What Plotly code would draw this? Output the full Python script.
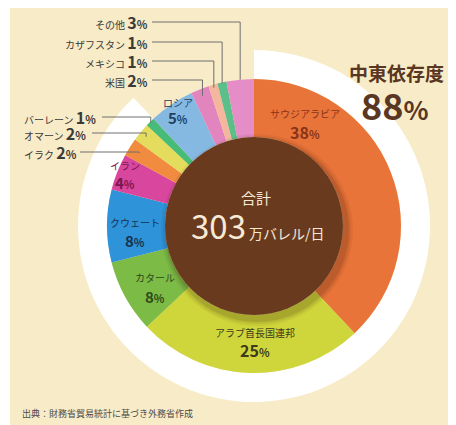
import math
import plotly.graph_objects as go

# ---------------- data ----------------
countries = ["サウジアラビア", "アラブ首長国連邦", "カタール", "クウェート", "イラン",
             "イラク", "オマーン", "バーレーン", "ロシア", "米国", "メキシコ",
             "カザフスタン", "その他"]
shares = [38, 25, 8, 8, 4, 2, 2, 1, 5, 2, 1, 1, 3]
colors = ["#E9743A", "#CFD63C", "#7DBB47", "#2E93D8", "#D9469E", "#F08B3F",
          "#E4DC5C", "#47BC79", "#86B9E2", "#E285BF", "#F5B69E", "#5CBF8A", "#E48DC7"]
middle_east_share = 88
middle_east_label = "中東依存度"
total_label = "合計"
total_value = 303
total_unit = "万バレル/日"
source_text = "出典：財務省貿易統計に基づき外務省作成"

# ---------------- layout constants ----------------
W, H = 456, 425
OFF = 8  # page body margin
CX, CY = 254, 226
R, R_IN, R_RING = 147, 89, 176
BG = "#F8EBC7"
BROWN = "#6A3A1E"
FONT = "Noto Sans CJK JP"


def px(x):
    return (x - OFF) / W


def py(y):
    return 1 - (y - OFF) / H


def dom(r):
    return dict(x=[px(CX - r), px(CX + r)], y=[py(CY + r), py(CY - r)])


fig = go.Figure()

# white "middle east" ring behind
fig.add_trace(go.Pie(
    values=[middle_east_share, 100 - middle_east_share],
    marker=dict(colors=["#FFFFFF", "rgba(0,0,0,0)"], line=dict(width=0)),
    sort=False, direction="clockwise", rotation=0, hole=R / R_RING,
    textinfo="none", hoverinfo="skip", showlegend=False, domain=dom(R_RING)))

# main donut
fig.add_trace(go.Pie(
    labels=countries, values=shares,
    marker=dict(colors=colors, line=dict(width=0)),
    sort=False, direction="clockwise", rotation=0, hole=R_IN / R,
    textinfo="none", showlegend=False, domain=dom(R)))

shapes = []
# cream background panel
shapes.append(dict(type="rect", xref="paper", yref="paper", layer="below",
                   x0=px(10), x1=1, y0=0, y1=1, fillcolor=BG, line_width=0))

# soft shadow of centre circle
for dr, op in [(7, 0.06), (5, 0.08), (3, 0.12)]:
    rr = R_IN + dr
    ox, oy = CX + 3, CY + 4
    shapes.append(dict(type="circle", xref="paper", yref="paper", layer="above",
                       x0=px(ox - rr), x1=px(ox + rr), y0=py(oy + rr), y1=py(oy - rr),
                       fillcolor=f"rgba(50,20,5,{op})", line_width=0))
# brown centre
shapes.append(dict(type="circle", xref="paper", yref="paper", layer="above",
                   x0=px(CX - R_IN), x1=px(CX + R_IN), y0=py(CY + R_IN), y1=py(CY - R_IN),
                   fillcolor=BROWN, line_width=0))

annotations = []


def ann(x, y, text, size=10, color="#333", xanchor="center"):
    annotations.append(dict(x=px(x), y=py(y), xref="paper", yref="paper", text=text,
                            showarrow=False, xanchor=xanchor, yanchor="middle",
                            font=dict(family=FONT, size=size, color=color)))


def pct_text(v, big=16, small=11):
    return (f"<b><span style='font-size:{big}px'>{v}</span>"
            f"<span style='font-size:{small}px'>%</span></b>")


# slice mid-angles (clockwise from 12 o'clock)
cum = 0
mid = []
total = sum(shares)
for v in shares:
    mid.append((cum + v / 2) / total * 2 * math.pi)
    cum += v

# outside labels with leader lines
outside = {
    # index: (label y, text anchor x, anchor side, line start x, radius for end)
    12: (22, 150, "right", 152, 147),
    11: (42, 150, "right", 152, 146),
    10: (61, 150, "right", 152, 144),
    9: (80, 150, "right", 152, 140),
    7: (117, 22, "left", 102, 146),
    6: (133, 22, "left", 92, 140),
    5: (152, 22, "left", 80, 136),
}
for i, (ly, tx, side, lx, rr) in outside.items():
    a = mid[i]
    ex = CX + rr * math.sin(a)
    ey = CY - rr * math.cos(a)
    shapes.append(dict(type="path", xref="paper", yref="paper", layer="above",
                       path=f"M {px(lx)} {py(ly)} L {px(ex)} {py(ly)} L {px(ex)} {py(ey)}",
                       line=dict(color="#6E6E6E", width=1)))
    ann(tx, ly, f"{countries[i]} " + pct_text(shares[i], 16, 11), size=10,
        color="#3A3A3A", xanchor=side)

# inside labels
inside = {
    0: (305, 113, 132, "#8A3318"),
    1: (255, 332, 350, "#3E3A1A"),
    2: (155, 277, 296, "#2C4A1C"),
    3: (135, 222, 240, "#17324F"),
    4: (125, 165, 182, "#7A1650"),
    8: (178, 102, 118, "#22405F"),
}
for i, (x, y1, y2, c) in inside.items():
    ann(x, y1, countries[i], size=10, color=c)
    big = 16 if shares[i] >= 20 else 15
    ann(x, y2, pct_text(shares[i], big, 11), size=11, color=c)

# centre totals
ann(256, 198, total_label, size=15, color="#F6EAD6")
ann(258, 225, f"<span style='font-size:33px'>{total_value}</span>"
    f"<span style='font-size:14px'> {total_unit}</span>", size=14, color="#F6EAD6")

# middle-east dependency
ann(396, 72, f"<b>{middle_east_label}</b>", size=19, color="#5A3722")
ann(395, 104, f"<b><span style='font-size:36px'>{middle_east_share}</span>"
    f"<span style='font-size:26px'>%</span></b>", size=30, color="#5A3722")

# source
ann(20, 413, source_text, size=9, color="#4A4A4A", xanchor="left")

fig.update_layout(width=W, height=H, margin=dict(l=0, r=0, t=0, b=0),
                  paper_bgcolor="#FFFFFF", plot_bgcolor="#FFFFFF",
                  shapes=shapes, annotations=annotations,
                  font=dict(family=FONT))

fig.write_html("out.html", config={"displayModeBar": False})
